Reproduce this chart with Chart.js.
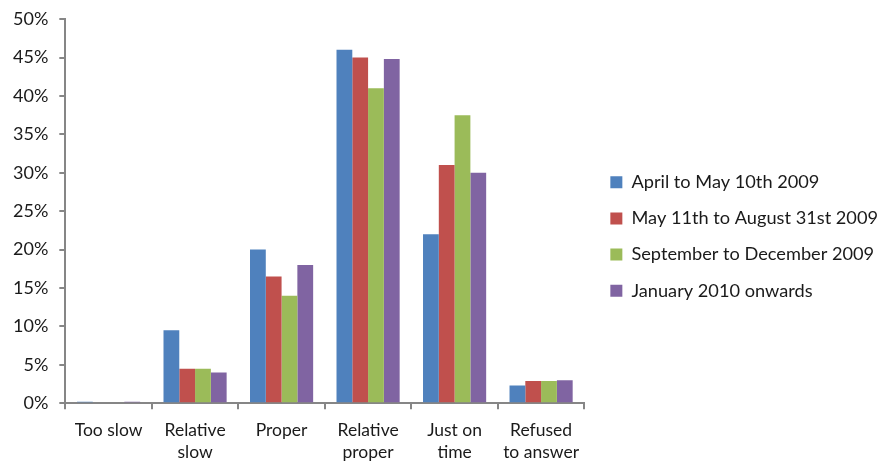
<!DOCTYPE html>
<html>
<head>
<meta charset="utf-8">
<script src="https://cdn.jsdelivr.net/npm/chart.js@4"></script>
<style>
  html, body { margin: 0; padding: 0; background: #ffffff; overflow: hidden; }
  #wrap { width: 879px; height: 461px; }
</style>
</head>
<body>
<div id="wrap"><canvas id="chart" width="879" height="461"></canvas></div>
<script>
// Categories of perceived pace (two-line labels)
const categories = [
  ["Too slow"],
  ["Relative", "slow"],
  ["Proper"],
  ["Relative", "proper"],
  ["Just on", "time"],
  ["Refused", "to answer"]
];

// Series labels
const seriesNames = [
  "April to May 10th 2009",
  "May 11th to August 31st 2009",
  "September to December 2009",
  "January 2010 onwards"
];

// Share of responses (%) per period
const aprilToMay10 = [0.2, 9.5, 20.0, 46.0, 22.0, 2.3];
const may11ToAug31 = [0.0, 4.5, 16.5, 45.0, 31.0, 2.9];
const sepToDec2009 = [0.0, 4.5, 14.0, 41.0, 37.5, 2.9];
const jan2010On    = [0.2, 4.0, 18.0, 44.8, 30.0, 3.0];

// Y axis ticks (%)
const yTicks = [0, 5, 10, 15, 20, 25, 30, 35, 40, 45, 50];

const colors = ["#4F81BD", "#C0504D", "#9BBB59", "#8064A2"];
const seriesValues = [aprilToMay10, may11ToAug31, sepToDec2009, jan2010On];

const axisColor = "#868686";
const textColor = "#1a1a1a";
const fontFamily = "Lato";

// Extra space between the plot area and the legend on its right
const LEGEND_GAP = 8;
const legendGap = {
  id: "legendGap",
  beforeInit(chart) {
    const legend = chart.legend;
    if (!legend) return;
    const fit = legend.fit;
    legend.fit = function () {
      fit.call(this);
      this.width += LEGEND_GAP;
    };
    const drawLegend = legend.draw;
    legend.draw = function () {
      this.left += LEGEND_GAP;
      drawLegend.call(this);
      this.left -= LEGEND_GAP;
    };
  }
};

function draw() {
  new Chart(document.getElementById("chart"), {
    type: "bar",
    data: {
      labels: categories,
      datasets: seriesNames.map((name, i) => ({
        label: name,
        data: seriesValues[i],
        backgroundColor: colors[i],
        borderWidth: 0,
        categoryPercentage: 0.73,
        barPercentage: 1.0
      }))
    },
    plugins: [legendGap],
    options: {
      responsive: false,
      animation: false,
      layout: { padding: { top: 0, left: 2, right: -9, bottom: -12 } },
      plugins: {
        tooltip: { enabled: false },
        legend: {
          position: "right",
          align: "center",
          maxWidth: 340,
          labels: {
            boxWidth: 12,
            boxHeight: 12,
            padding: 18,
            color: textColor,
            font: { family: fontFamily, size: 18.2 }
          }
        }
      },
      scales: {
        x: {
          border: { display: true, color: axisColor, width: 2 },
          grid: {
            display: true,
            offset: true,
            drawOnChartArea: false,
            drawTicks: true,
            tickLength: 6,
            color: axisColor,
            lineWidth: 2
          },
          ticks: {
            color: textColor,
            font: { family: fontFamily, size: 17.5, lineHeight: 1.25 },
            padding: 10,
            maxRotation: 0,
            autoSkip: false
          }
        },
        y: {
          min: 0,
          max: 50,
          afterBuildTicks: (axis) => { axis.ticks = yTicks.map(v => ({ value: v })); },
          border: { display: true, color: axisColor, width: 2 },
          grid: {
            display: true,
            drawOnChartArea: false,
            drawTicks: true,
            tickLength: 6,
            color: axisColor,
            lineWidth: 2
          },
          ticks: {
            color: textColor,
            font: { family: fontFamily, size: 18, lineHeight: 0.9 },
            padding: 11,
            callback: (v) => v + "%"
          }
        }
      }
    }
  });
}

Promise.all([
  document.fonts.load("18.2px Lato"),
  document.fonts.load("18px Lato"),
  document.fonts.load("17.5px Lato")
]).then(draw, draw);
</script>
</body>
</html>
